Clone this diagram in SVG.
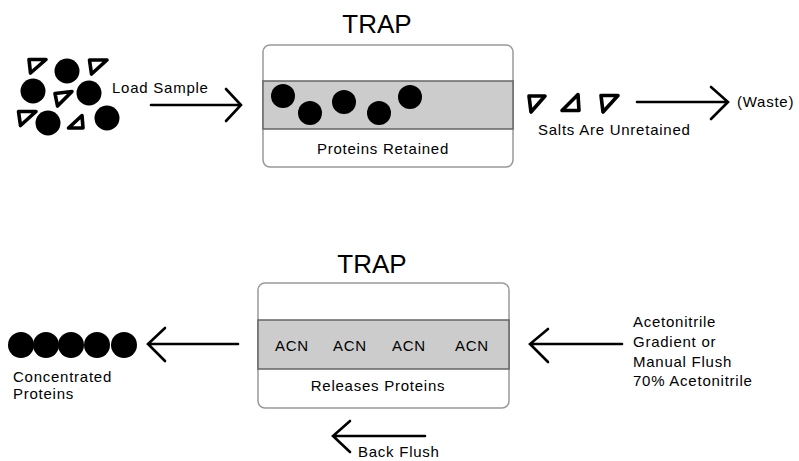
<svg xmlns="http://www.w3.org/2000/svg" width="799" height="461" viewBox="0 0 799 461">
<style>
text{font-family:"Liberation Sans",Arial,sans-serif;fill:#000;}
.lbl{font-size:15px;letter-spacing:0.75px;}
.title{font-size:26px;text-anchor:middle;}
.mid{text-anchor:middle;}
.box{fill:#fff;stroke:#999;stroke-width:1.5;}
.band{fill:#cccccc;stroke:#666;stroke-width:1.5;}
.dot{fill:#000;}
.tri{fill:#fff;stroke:#000;stroke-width:3.6;stroke-linejoin:round;}
.arr{fill:none;stroke:#000;stroke-width:2.6;stroke-linecap:round;stroke-linejoin:miter;}
</style>
<rect width="799" height="461" fill="#fff"/>

<g id="sample-mix">
<polygon class="tri" points="29,59.5 46,59.5 30.5,73"/>
<circle class="dot" cx="67" cy="71" r="12.5"/>
<polygon class="tri" points="89.5,60 107,60 91.5,74"/>
<circle class="dot" cx="33" cy="91" r="12.5"/>
<polygon class="tri" points="55,93.5 72,91.5 57.5,106"/>
<circle class="dot" cx="89" cy="93" r="12.5"/>
<polygon class="tri" points="18.5,111.5 36,111.5 20.5,125.5"/>
<circle class="dot" cx="48" cy="123" r="12.5"/>
<polygon class="tri" points="68.5,128 83,128 82,115.5"/>
<circle class="dot" cx="107" cy="118" r="12.5"/>
</g>

<g id="trap-top">
<text class="title" x="377" y="33">TRAP</text>
<rect class="box" x="263" y="45" width="250" height="122" rx="7"/>
<rect class="band" x="263" y="81" width="250" height="48"/>
<circle class="dot" cx="283" cy="96" r="12"/>
<circle class="dot" cx="310" cy="113" r="12"/>
<circle class="dot" cx="344" cy="102" r="12"/>
<circle class="dot" cx="379" cy="113" r="12"/>
<circle class="dot" cx="410" cy="97" r="12"/>
<text class="lbl mid" x="383" y="154">Proteins Retained</text>
</g>

<g id="salts">
<polygon class="tri" points="529,96 545,96 531,112"/>
<polygon class="tri" points="562,110.5 579,110.5 578,94.5"/>
<polygon class="tri" points="601,95.5 618,95.5 603,112"/>
<text class="lbl" x="538" y="135">Salts Are Unretained</text>
</g>

<g id="waste">
<text class="lbl" x="737" y="107">(Waste)</text>
</g>

<g id="trap-bottom">
<text class="title" x="372" y="273">TRAP</text>
<rect class="box" x="258" y="283" width="251" height="125" rx="7"/>
<rect class="band" x="258" y="320" width="251" height="49"/>
<text class="lbl mid" x="292" y="351">ACN</text>
<text class="lbl mid" x="350" y="351">ACN</text>
<text class="lbl mid" x="409" y="351">ACN</text>
<text class="lbl mid" x="472" y="351">ACN</text>
<text class="lbl mid" x="378" y="391">Releases Proteins</text>
</g>

<g id="concentrated">
<circle class="dot" cx="21" cy="345" r="13"/>
<circle class="dot" cx="46" cy="345" r="13"/>
<circle class="dot" cx="71" cy="345" r="13"/>
<circle class="dot" cx="97" cy="345" r="13"/>
<circle class="dot" cx="124" cy="345" r="13"/>
<text class="lbl" x="13" y="382">Concentrated</text>
<text class="lbl" x="13" y="399">Proteins</text>
</g>

<g id="acetonitrile">
<text class="lbl" x="633" y="327">Acetonitrile</text>
<text class="lbl" x="633" y="347">Gradient or</text>
<text class="lbl" x="633" y="367">Manual Flush</text>
<text class="lbl" x="633" y="386">70% Acetonitrile</text>
</g>

<g id="load-sample">
<text class="lbl" x="112" y="93">Load Sample</text>
</g>

<g id="back-flush">
<text class="lbl" x="358" y="457">Back Flush</text>
</g>

<g id="connectors">
<path class="arr" d="M151,105 H240 M226,89 L241,105 L226,121"/>
<path class="arr" d="M637,102 H727 M711,87 L728,102 L711,119"/>
<path class="arr" d="M238,344 H149 M165,328 L148,344 L165,361"/>
<path class="arr" d="M622,344 H531 M548,329 L530,344 L548,362"/>
<path class="arr" d="M425,436 H334 M350,421 L333,436 L350,452"/>
</g>
</svg>
